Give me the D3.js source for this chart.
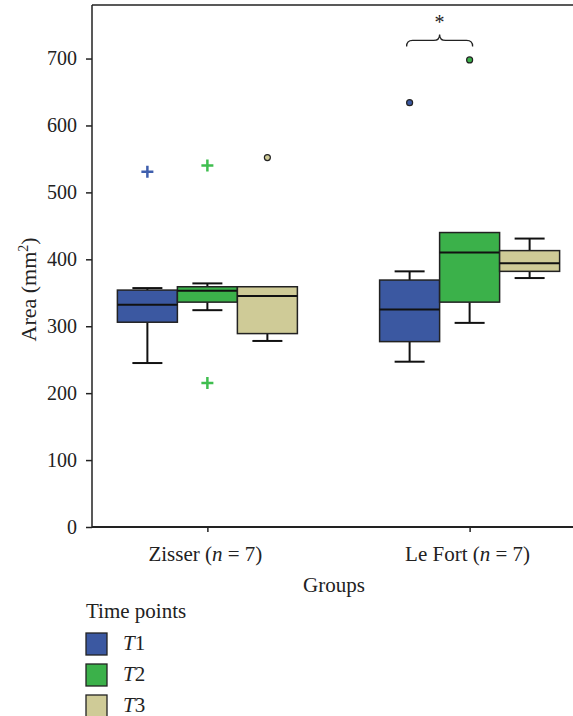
<!DOCTYPE html>
<meta charset="utf-8">
<style>
body { margin: 0; background: #fff; }
text { font-family: "Liberation Serif", "DejaVu Serif", serif; fill: #222; }
.domain { display: none; }
.tick line { stroke: #222; stroke-width: 1.5; }
</style>
<body>
<div id="chart"></div>
<script src="https://d3js.org/d3.v7.min.js"></script>
<script>
  // groups and time points
  var groups = ["Zisser", "Le Fort"];
  var timePoints = ["T1", "T2", "T3"];
  var yTicks = [0, 100, 200, 300, 400, 500, 600, 700];

  // box statistics, one row per group, one column per time point
  var whiskerLow  = [[245, 324, 278], [247, 305, 372]];
  var q1          = [[306, 336, 289], [277, 336, 382]];
  var median      = [[332, 353, 345], [325, 410, 394]];
  var q3          = [[354, 359, 359], [369, 440, 413]];
  var whiskerHigh = [[357, 364, 359], [382, 440, 431]];

  // outliers: [group, time point, value, kind]
  var outliers = [
    ["Zisser", "T1", 531, "plus"],
    ["Zisser", "T2", 540, "plus"],
    ["Zisser", "T2", 215, "plus"],
    ["Zisser", "T3", 552, "circle"],
    ["Le Fort", "T1", 634, "circle"],
    ["Le Fort", "T2", 698, "circle"]
  ];

  var colors = ["#3b58a1", "#3bb14a", "#cfcb97"];
  var color = d3.scaleOrdinal().domain(timePoints).range(colors);

  var width = 573, height = 716;
  var margin = {top: 5, left: 92, bottom: 189};

  var svg = d3.select("#chart").append("svg")
      .attr("width", width)
      .attr("height", height);

  var y = d3.scaleLinear().domain([0, 780]).range([height - margin.bottom, margin.top]);
  var x = d3.scalePoint().domain(groups).range([margin.left, 585]).padding(0.44);
  var xSub = d3.scaleBand().domain(timePoints).range([-90, 90]);
  var bw = xSub.bandwidth();

  // frame: left axis, top line, bottom axis
  svg.append("line")
      .attr("x1", margin.left).attr("x2", width)
      .attr("y1", y(780)).attr("y2", y(780))
      .attr("stroke", "#222").attr("stroke-width", 1.5);

  svg.append("g")
      .attr("transform", "translate(" + margin.left + ",0)")
      .call(d3.axisLeft(y).tickValues(yTicks).tickSize(6).tickPadding(9))
      .call(function(g) { g.selectAll("text").style("font-size", "20px"); });

  svg.append("g")
      .attr("transform", "translate(0," + y(0) + ")")
      .call(d3.axisBottom(x).tickSize(5).tickFormat(""));

  svg.append("line")
      .attr("x1", margin.left).attr("x2", margin.left)
      .attr("y1", y(780)).attr("y2", y(0))
      .attr("stroke", "#222").attr("stroke-width", 1.5);
  svg.append("line")
      .attr("x1", margin.left).attr("x2", width)
      .attr("y1", y(0)).attr("y2", y(0))
      .attr("stroke", "#222").attr("stroke-width", 2);

  // category labels
  groups.forEach(function(gname) {
    var t = svg.append("text")
        .attr("x", x(gname) - 2).attr("y", 561)
        .attr("text-anchor", "middle")
        .style("font-size", "21px");
    t.append("tspan").text(gname + " (");
    t.append("tspan").style("font-style", "italic").text("n");
    t.append("tspan").text(" = 7)");
  });

  svg.append("text")
      .attr("x", 334).attr("y", 592)
      .attr("text-anchor", "middle")
      .style("font-size", "21px")
      .text("Groups");

  var yt = svg.append("text")
      .attr("transform", "translate(36," + y(355) + ") rotate(-90)")
      .attr("text-anchor", "middle")
      .style("font-size", "22px");
  yt.append("tspan").text("Area (mm");
  yt.append("tspan").attr("dy", -8).style("font-size", "14px").text("2");
  yt.append("tspan").attr("dy", 8).text(")");

  // boxes
  groups.forEach(function(gname, gi) {
    timePoints.forEach(function(tp, ti) {
      var cx = x(gname) + xSub(tp) + bw / 2;
      var g = svg.append("g");
      // whiskers
      g.append("line")
          .attr("x1", cx).attr("x2", cx)
          .attr("y1", y(q1[gi][ti])).attr("y2", y(whiskerLow[gi][ti]))
          .attr("stroke", "#111").attr("stroke-width", 2);
      g.append("line")
          .attr("x1", cx).attr("x2", cx)
          .attr("y1", y(q3[gi][ti])).attr("y2", y(whiskerHigh[gi][ti]))
          .attr("stroke", "#111").attr("stroke-width", 2);
      g.append("line")
          .attr("x1", cx - bw / 4).attr("x2", cx + bw / 4)
          .attr("y1", y(whiskerLow[gi][ti])).attr("y2", y(whiskerLow[gi][ti]))
          .attr("stroke", "#111").attr("stroke-width", 2);
      if (whiskerHigh[gi][ti] > q3[gi][ti]) {
        g.append("line")
            .attr("x1", cx - bw / 4).attr("x2", cx + bw / 4)
            .attr("y1", y(whiskerHigh[gi][ti])).attr("y2", y(whiskerHigh[gi][ti]))
            .attr("stroke", "#111").attr("stroke-width", 2);
      }
      // box
      g.append("rect")
          .attr("x", cx - bw / 2)
          .attr("y", y(q3[gi][ti]))
          .attr("width", bw)
          .attr("height", y(q1[gi][ti]) - y(q3[gi][ti]))
          .attr("fill", color(tp))
          .attr("stroke", "#222").attr("stroke-width", 1.5);
      g.append("line")
          .attr("x1", cx - bw / 2).attr("x2", cx + bw / 2)
          .attr("y1", y(median[gi][ti])).attr("y2", y(median[gi][ti]))
          .attr("stroke", "#111").attr("stroke-width", 2);
    });
  });

  // outliers
  outliers.forEach(function(o) {
    var cx = x(o[0]) + xSub(o[1]) + bw / 2;
    var cy = y(o[2]);
    if (o[3] == "plus") {
      svg.append("path")
          .attr("d", "M" + (cx - 6) + "," + cy + "h12M" + cx + "," + (cy - 6) + "v12")
          .attr("stroke", d3.color(color(o[1])).brighter(0.2))
          .attr("stroke-width", 2.5);
    } else {
      svg.append("circle")
          .attr("cx", cx).attr("cy", cy).attr("r", 3)
          .attr("fill", color(o[1]))
          .attr("stroke", "#222").attr("stroke-width", 1.2);
    }
  });

  // significance brace between Le Fort T1 and T2
  var bx1 = x("Le Fort") + xSub("T1") + bw / 2 - 3;
  var bx2 = x("Le Fort") + xSub("T2") + bw / 2 + 3;
  var bm = (bx1 + bx2) / 2;
  var yEnd = y(718), yLine = y(727), yTip = y(736);
  svg.append("path")
      .attr("d", "M" + bx1 + "," + yEnd +
                 "Q" + bx1 + "," + yLine + " " + (bx1 + 6) + "," + yLine +
                 "L" + (bm - 6) + "," + yLine +
                 "Q" + bm + "," + yLine + " " + bm + "," + yTip +
                 "Q" + bm + "," + yLine + " " + (bm + 6) + "," + yLine +
                 "L" + (bx2 - 6) + "," + yLine +
                 "Q" + bx2 + "," + yLine + " " + bx2 + "," + yEnd)
      .attr("fill", "none")
      .attr("stroke", "#222").attr("stroke-width", 1.3);
  svg.append("text")
      .attr("x", bm).attr("y", y(736) - 5)
      .attr("text-anchor", "middle")
      .style("font-size", "20px")
      .text("*");

  // legend
  svg.append("text")
      .attr("x", 86).attr("y", 618)
      .style("font-size", "21px")
      .text("Time points");

  var legend = svg.selectAll(".legend")
      .data(timePoints)
    .enter().append("g")
      .attr("class", "legend")
      .attr("transform", function(d, i) { return "translate(86," + (633 + i * 31) + ")"; });

  legend.append("rect")
      .attr("width", 21).attr("height", 22)
      .attr("fill", function(d) { return color(d); })
      .attr("stroke", "#222").attr("stroke-width", 1.3);

  legend.append("text")
      .attr("x", 37).attr("y", 17)
      .style("font-size", "21px")
      .each(function(d) {
        d3.select(this).append("tspan").style("font-style", "italic").text(d.charAt(0));
        d3.select(this).append("tspan").text(d.slice(1));
      });
</script>
</body>
